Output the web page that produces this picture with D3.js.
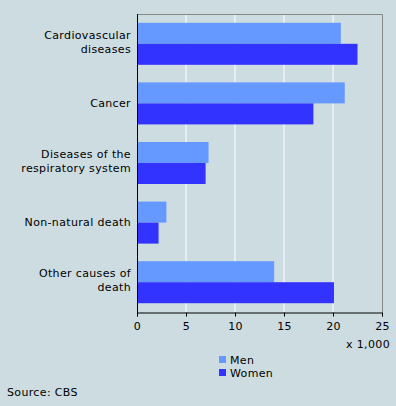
<!DOCTYPE html>
<html><head><meta charset="utf-8">
<script src="https://cdn.jsdelivr.net/npm/d3@7"></script>
<style>body{margin:0;background:#cddce1;}svg{display:block;}text{font-family:"DejaVu Sans",Verdana,sans-serif;font-size:11px;fill:#000;letter-spacing:0.35px;}</style>
</head><body>
<script>
const categories = [["Cardiovascular","diseases"],["Cancer"],["Diseases of the","respiratory system"],["Non-natural death"],["Other causes of","death"]];
const seriesNames = ["Men","Women"];
const men = [20.8, 21.2, 7.3, 3.0, 14.0];
const women = [22.5, 18.0, 7.0, 2.2, 20.1];
const xTicks = [0,5,10,15,20,25];
const colors = ["#6699ff","#3333ff"];

const W=396,H=406;
const svg=d3.select("body").append("svg").attr("width",W).attr("height",H);
svg.append("rect").attr("width",W).attr("height",H).attr("fill","#cddce1");
const L=137,R=382,T=14,B=312;
const x=d3.scaleLinear().domain([0,25]).range([L,R]);
const y=d3.scaleBand().domain(d3.range(categories.length)).range([T,B]).paddingInner(0.295).paddingOuter(0.1475);
const sub=d3.scaleBand().domain([0,1]).range([0,y.bandwidth()]);

// gridlines
svg.append("g").selectAll("line").data(xTicks.filter(t=>t>0&&t<25)).join("line")
 .attr("x1",d=>x(d)).attr("x2",d=>x(d)).attr("y1",T).attr("y2",B).attr("stroke","#fff").attr("stroke-width",1);
// border top/right
svg.append("path").attr("d",`M${L},${T+0.5}H${R+0.5}V${B}`).attr("fill","none").attr("stroke","#888");

const data=[men,women];
data.forEach((vals,si)=>{
  svg.append("g").selectAll("rect").data(vals).join("rect")
   .attr("x",x(0)).attr("y",(d,i)=>y(i)+sub(si)).attr("width",d=>x(d)-x(0)).attr("height",sub.bandwidth())
   .attr("fill",colors[si]);
});

// x axis
const xa=svg.append("g").attr("transform",`translate(0,${B+0.5})`)
 .call(d3.axisBottom(x).tickValues(xTicks).tickSize(4).tickPadding(6).tickFormat(d3.format("d")));
xa.select(".domain").attr("stroke","#000");
xa.selectAll(".tick line").attr("stroke","#000");
xa.selectAll("text").attr("font-size","11px").attr("font-family","DejaVu Sans, Verdana, sans-serif").attr("fill","#000");
// y axis line
svg.append("line").attr("x1",L+0.5).attr("x2",L+0.5).attr("y1",T).attr("y2",B+1).attr("stroke","#000");

// category labels
categories.forEach((lines,i)=>{
  const c=y(i)+y.bandwidth()/2;
  const t=svg.append("text").attr("text-anchor","end").attr("x",131);
  const offs = lines.length===1?[3.5]:[-5,9];
  lines.forEach((ln,j)=>t.append("tspan").attr("x",131).attr("y",c+offs[j]).text(ln));
});

svg.append("text").attr("x",390).attr("y",348).attr("text-anchor","end").text("x 1,000");

// legend
seriesNames.forEach((n,i)=>{
  svg.append("rect").attr("x",219).attr("y",356+i*13).attr("width",7).attr("height",7).attr("fill",colors[i]);
  svg.append("text").attr("x",230).attr("y",363.5+i*13).text(n);
});
svg.append("text").attr("x",7).attr("y",396).text("Source: CBS");
</script>
</body></html>
